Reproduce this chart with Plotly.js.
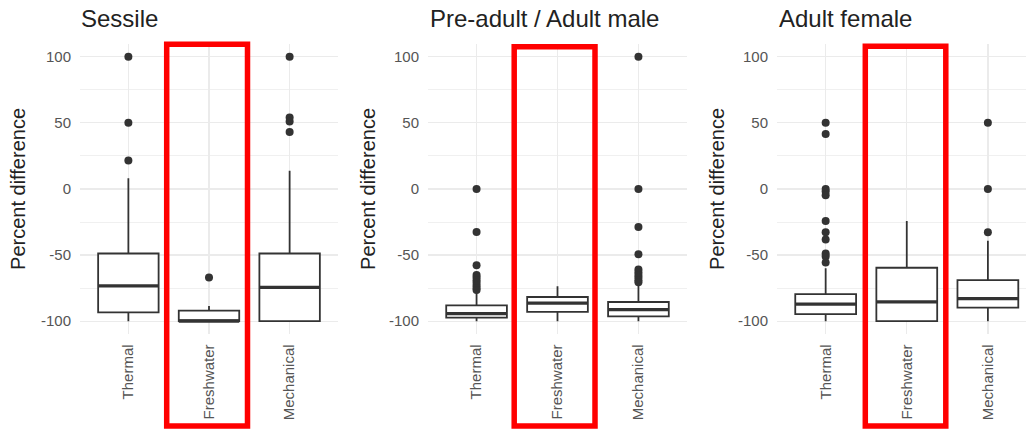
<!DOCTYPE html>
<html>
<head>
<meta charset="utf-8">
<script src="https://cdn.plot.ly/plotly-3.0.1.min.js"></script>
<style>
  html, body { margin: 0; padding: 0; background: #ffffff; overflow: hidden; }
  #chart { width: 1026px; height: 429px; }
</style>
</head>
<body>
<div id="chart"></div>
<script>
// ---- data ----
const categories = ["Thermal", "Freshwater", "Mechanical"];
const panelTitles = ["Sessile", "Pre-adult / Adult male", "Adult female"];
const yTickValues = [-100, -50, 0, 50, 100];
const yTickLabels = ["-100", "-50", "0", "50", "100"];

// Sessile
const sessileLower  = [-100, -100, -100];
const sessileQ1     = [-93.4, -100, -100];
const sessileMedian = [-73.3, -100, -74.5];
const sessileQ3     = [-48.8, -92.0, -48.8];
const sessileUpper  = [8.0, -88.6, 13.7];
const sessileOutThermal    = [100, 50, 21.6];
const sessileOutFreshwater = [-67];
const sessileOutMechanical = [100, 54, 51, 43];

// Pre-adult / Adult male
const maleLower  = [-100, -100, -100];
const maleQ1     = [-97.3, -93.0, -96.3];
const maleMedian = [-94.3, -86.3, -91.3];
const maleQ3     = [-88.0, -81.7, -85.5];
const maleUpper  = [-78.0, -73.6, -71.6];
const maleOutThermal    = [0, -32.5, -57.7, -65, -67, -69, -71, -73, -75, -76.5];
const maleOutFreshwater = [];
const maleOutMechanical = [100, 0, -28.7, -49.4, -61, -63, -65, -67, -69, -70.5];

// Adult female
const femaleLower  = [-100, -100, -100];
const femaleQ1     = [-94.7, -100, -89.7];
const femaleMedian = [-87.1, -85.4, -82.9];
const femaleQ3     = [-79.6, -59.6, -69.0];
const femaleUpper  = [-60.0, -24.3, -39.2];
const femaleOutThermal    = [50, 41.5, 0, -2, -4.7, -24.3, -32.7, -38.2, -48.8, -51, -55.6];
const femaleOutFreshwater = [];
const femaleOutMechanical = [50, 0, -32.7];

// ---- build ----
const panels = [
  {lower: sessileLower, q1: sessileQ1, med: sessileMedian, q3: sessileQ3, upper: sessileUpper,
   outs: [sessileOutThermal, sessileOutFreshwater, sessileOutMechanical]},
  {lower: maleLower, q1: maleQ1, med: maleMedian, q3: maleQ3, upper: maleUpper,
   outs: [maleOutThermal, maleOutFreshwater, maleOutMechanical]},
  {lower: femaleLower, q1: femaleQ1, med: femaleMedian, q3: femaleQ3, upper: femaleUpper,
   outs: [femaleOutThermal, femaleOutFreshwater, femaleOutMechanical]}
];

const W = 1026, H = 429;
const boxColor = "#333333";
const boxWidth = 0.75;
const catIdx = categories.map((c, i) => i);

const traces = [];
panels.forEach((p, k) => {
  const xa = k === 0 ? "x" : "x" + (k + 1);
  const ya = k === 0 ? "y" : "y" + (k + 1);
  traces.push({
    type: "box", xaxis: xa, yaxis: ya,
    x: catIdx, q1: p.q1, median: p.med, q3: p.q3,
    lowerfence: p.lower, upperfence: p.upper,
    width: boxWidth, whiskerwidth: 0,
    fillcolor: "#ffffff",
    line: {color: boxColor, width: 1.8},
    boxpoints: false, hoverinfo: "skip", showlegend: false
  });
  // thicker median line (ggplot style)
  const mx = [], my = [];
  catIdx.forEach(i => {
    mx.push(i - boxWidth / 2, i + boxWidth / 2, null);
    my.push(p.med[i], p.med[i], null);
  });
  traces.push({
    type: "scatter", mode: "lines", xaxis: xa, yaxis: ya,
    x: mx, y: my, line: {color: boxColor, width: 3.2},
    hoverinfo: "skip", showlegend: false
  });
  // outliers
  const ox = [], oy = [];
  p.outs.forEach((arr, i) => arr.forEach(v => { ox.push(i); oy.push(v); }));
  traces.push({
    type: "scatter", mode: "markers", xaxis: xa, yaxis: ya,
    x: ox, y: oy, marker: {color: boxColor, size: 8},
    hoverinfo: "skip", showlegend: false
  });
});

const plotTop = 43.5, plotBottom = 334.4;
const yDomain = [1 - plotBottom / H, 1 - plotTop / H];
const xDomains = [[80 / W, 338 / W], [428 / W, 687 / W], [777 / W, 1]];
const xRanges = [[-0.6, 2.6], [-0.6, 2.6], [-0.6, 2.47]];

const font = "Liberation Sans, Arial, Helvetica, sans-serif";
const layout = {
  width: W, height: H,
  margin: {l: 0, r: 0, t: 0, b: 0},
  paper_bgcolor: "#ffffff", plot_bgcolor: "#ffffff",
  font: {family: font},
  showlegend: false,
  annotations: [],
  shapes: []
};

for (let k = 0; k < 3; k++) {
  const sx = k === 0 ? "" : String(k + 1);
  layout["xaxis" + sx] = {
    domain: xDomains[k], range: xRanges[k], anchor: "y" + sx,
    tickvals: catIdx, ticktext: categories, tickangle: -90,
    tickfont: {size: 15, color: "#555555", family: font},
    ticks: "", ticklabelstandoff: 6,
    showgrid: true, gridcolor: "#ebebeb", gridwidth: 1.3,
    zeroline: false, showline: false, fixedrange: true
  };
  layout["yaxis" + sx] = {
    domain: yDomain, range: [-110, 110], anchor: "x" + sx,
    tickvals: yTickValues, ticktext: yTickLabels,
    tickfont: {size: 15, color: "#555555", family: font},
    ticks: "", ticklabelstandoff: 8,
    showgrid: true, gridcolor: "#ebebeb", gridwidth: 1.3,
    minor: {tickvals: [-75, -25, 25, 75], showgrid: true, gridcolor: "#f0f0f0", gridwidth: 1},
    zeroline: false, showline: false, fixedrange: true
  };
}

// panel titles
const titleX = [79 / W, 428 / W, 777 / W];
panelTitles.forEach((t, k) => {
  layout.annotations.push({
    text: t, xref: "paper", yref: "paper",
    x: titleX[k], y: 1 - 19 / H, xanchor: "left", yanchor: "middle",
    showarrow: false, font: {size: 24, color: "#222222", family: font}
  });
});
// y-axis titles
const yTitleX = [18 / W, 368 / W, 717 / W];
yTitleX.forEach(x => {
  layout.annotations.push({
    text: "Percent difference", xref: "paper", yref: "paper",
    x: x, y: (yDomain[0] + yDomain[1]) / 2, xanchor: "center", yanchor: "middle",
    textangle: -90, showarrow: false, font: {size: 20, color: "#222222", family: font}
  });
});
// red highlight rectangles
const redBoxes = [[166.7, 247.5, 44.2], [514.2, 595.0, 46.7], [865.3, 945.8, 46.3]];
redBoxes.forEach(b => {
  layout.shapes.push({
    type: "rect", xref: "paper", yref: "paper",
    x0: b[0] / W, x1: b[1] / W, y0: 1 - 426 / H, y1: 1 - b[2] / H,
    line: {color: "#ff0000", width: 5.5}, fillcolor: "rgba(0,0,0,0)", layer: "above"
  });
});

Plotly.newPlot("chart", traces, layout, {staticPlot: true, displayModeBar: false});
</script>
</body>
</html>
